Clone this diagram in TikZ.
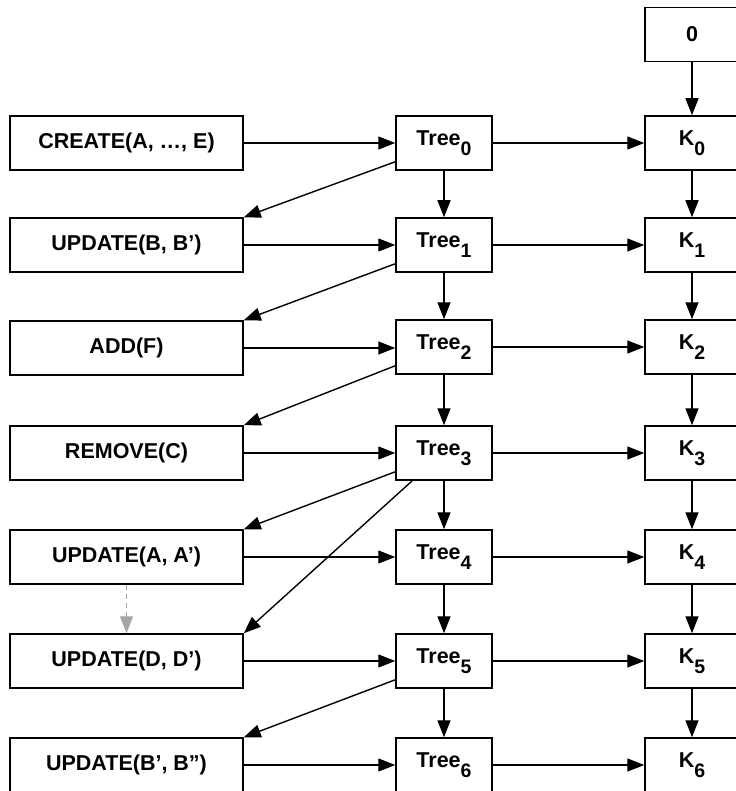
\documentclass[tikz,border=0pt]{standalone}
\usepackage{fontspec}
\setmainfont{Liberation Sans}
\usetikzlibrary{arrows.meta,calc}
\newcommand{\mysub}[1]{\raisebox{-10pt}{\fontsize{19.5}{19.5}\selectfont #1}}
\begin{document}
\begin{tikzpicture}[x=1pt,y=-1pt,
  every node/.style={font=\fontsize{21.5}{24}\selectfont\bfseries},
  opbox/.style={draw,line width=1.5pt,minimum width=233pt,minimum height=54pt,inner sep=0pt},
  treebox/.style={draw,line width=1.5pt,minimum width=96pt,minimum height=54pt,inner sep=0pt},
  kbox/.style={draw,line width=1.5pt,minimum width=94pt,minimum height=54pt,inner sep=0pt},
  arr/.style={line width=1.4pt,-{Triangle[length=17pt,width=13pt]}},
  garr/.style={line width=1.4pt,draw=black!35,dash pattern=on 5pt off 4pt,-{Triangle[length=17pt,width=13pt,fill=black!35]}}
]
\useasboundingbox (0,0) rectangle (735,791);
% left column
\node[opbox] (L0) at (126.5,143) {CREATE(A, …, E)};
\node[opbox] (L1) at (126.5,245) {UPDATE(B, B’)};
\node[opbox] (L2) at (126.5,348) {ADD(F)};
\node[opbox] (L3) at (126.5,453) {REMOVE(C)};
\node[opbox] (L4) at (126.5,557) {UPDATE(A, A’)};
\node[opbox] (L5) at (126.5,661) {UPDATE(D, D’)};
\node[opbox] (L6) at (126.5,765) {UPDATE(B’, B”)};
% tree column
\node[treebox] (T0) at (444,143) {Tree\mysub{0}};
\node[treebox] (T1) at (444,245) {Tree\mysub{1}};
\node[treebox] (T2) at (444,347) {Tree\mysub{2}};
\node[treebox] (T3) at (444,453) {Tree\mysub{3}};
\node[treebox] (T4) at (444,557) {Tree\mysub{4}};
\node[treebox] (T5) at (444,661) {Tree\mysub{5}};
\node[treebox] (T6) at (444,765) {Tree\mysub{6}};
% K column
\node[kbox] (Z) at (692,34.5) {0};
\node[kbox] (K0) at (692,143) {K\mysub{0}};
\node[kbox] (K1) at (692,245) {K\mysub{1}};
\node[kbox] (K2) at (692,347) {K\mysub{2}};
\node[kbox] (K3) at (692,453) {K\mysub{3}};
\node[kbox] (K4) at (692,557) {K\mysub{4}};
\node[kbox] (K5) at (692,661) {K\mysub{5}};
\node[kbox] (K6) at (692,765) {K\mysub{6}};
% horizontal arrows
\foreach \i in {0,...,6}{
  \draw[arr] (L\i.east) -- (L\i.east -| T\i.west);
  \draw[arr] (T\i.east) -- (K\i.west);
}
% vertical arrows
\draw[arr] (Z) -- (K0);
\foreach \i/\j in {0/1,1/2,2/3,3/4,4/5,5/6}{
  \draw[arr] (T\i) -- (T\j);
  \draw[arr] (K\i) -- (K\j);
}
% diagonal arrows
\draw[arr] ([yshift=9pt]T0.south west) -- (L1.north east);
\draw[arr] ([yshift=9pt]T1.south west) -- (L2.north east);
\draw[arr] ([yshift=9pt]T2.south west) -- (L3.north east);
\draw[arr] ([yshift=9pt]T3.south west) -- (L4.north east);
\draw[arr] ([xshift=17pt]T3.south west) -- (L5.north east);
\draw[arr] ([yshift=9pt]T5.south west) -- (L6.north east);
% dashed grey
\draw[garr] (L4.south) -- (L5.north);
\end{tikzpicture}
\end{document}
